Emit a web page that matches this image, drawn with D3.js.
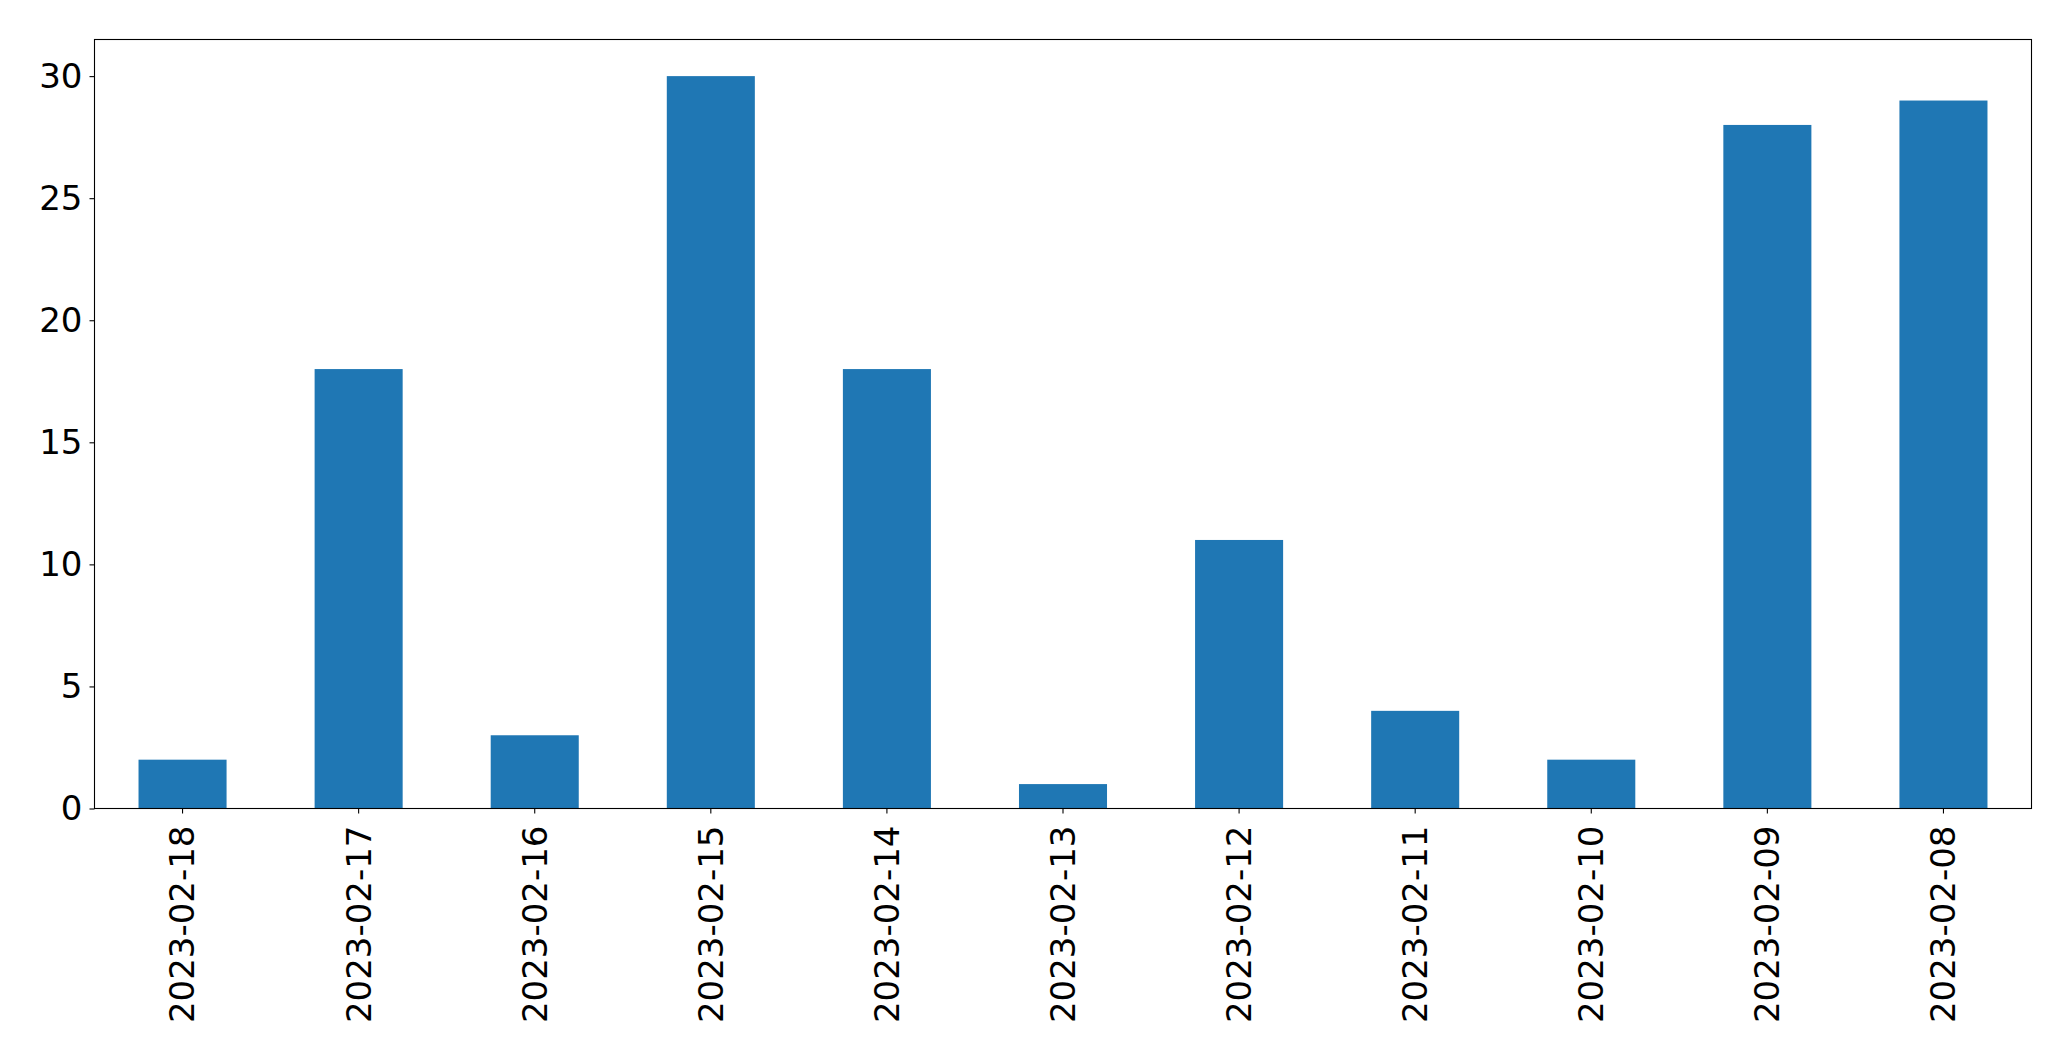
<!DOCTYPE html>
<html>
<head>
<meta charset="utf-8">
<script src="https://cdn.jsdelivr.net/npm/d3@7"></script>
<style>
html,body{margin:0;padding:0;background:#fff;}
svg{display:block;}
</style>
</head>
<body>
<script>
const categories = ["2023-02-18","2023-02-17","2023-02-16","2023-02-15","2023-02-14","2023-02-13","2023-02-12","2023-02-11","2023-02-10","2023-02-09","2023-02-08"];
const values = [2,18,3,30,18,1,11,4,2,28,29];
const yTicks = [0,5,10,15,20,25,30];

const W = 2071, H = 1061;
const margin = {left: 94.5, right: 2071-2031.5, top: 39.5, bottom: 1061-808.5};
const svg = d3.select("body").append("svg").attr("width", W).attr("height", H);

const x = d3.scaleBand().domain(categories).range([margin.left, W - margin.right]).paddingInner(0.5).paddingOuter(0.25);
const y = d3.scaleLinear().domain([0, 31.5]).range([H - margin.bottom, margin.top]);

svg.append("g").selectAll("rect").data(values).join("rect")
  .attr("x", (d,i) => x(categories[i]))
  .attr("y", d => y(d))
  .attr("width", x.bandwidth())
  .attr("height", d => y(0) - y(d))
  .attr("fill", "#1f77b4");

const font = "DejaVu Sans, sans-serif";
const fs = 34;

const yAxis = svg.append("g").attr("transform", `translate(${margin.left},0)`)
  .call(d3.axisLeft(y).tickValues(yTicks).tickSize(5).tickPadding(7));
yAxis.select(".domain").remove();
yAxis.selectAll("text").attr("font-family", font).attr("font-size", fs).attr("fill", "#000");
yAxis.selectAll("line").attr("stroke", "#000").attr("stroke-width", 1.1);

const xAxis = svg.append("g").attr("transform", `translate(0,${H - margin.bottom})`)
  .call(d3.axisBottom(x).tickSize(5).tickPadding(0));
xAxis.select(".domain").remove();
xAxis.selectAll("line").attr("stroke", "#000").attr("stroke-width", 1.1);
xAxis.selectAll("text")
  .attr("font-family", font).attr("font-size", fs).attr("fill", "#000")
  .attr("transform", "rotate(-90)")
  .attr("x", -17).attr("y", 0).attr("dy", "0.35em")
  .attr("text-anchor", "end");

svg.append("rect")
  .attr("x", margin.left).attr("y", margin.top)
  .attr("width", W - margin.left - margin.right)
  .attr("height", H - margin.top - margin.bottom)
  .attr("fill", "none").attr("stroke", "#000").attr("stroke-width", 1.1);
</script>
</body>
</html>
